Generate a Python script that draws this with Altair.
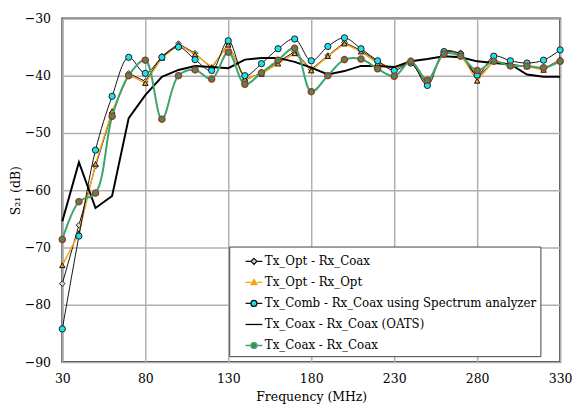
import altair as alt
import pandas as pd

freq = [30, 40, 50, 60, 70, 80, 90, 100, 110, 120, 130, 140, 150, 160, 170, 180,
        190, 200, 210, 220, 230, 240, 250, 260, 270, 280, 290, 300, 310, 320, 330]

opt_coax = [-76.3, -66.1, -55.8, -46.5, -39.6, -41.0, -36.6, -34.4, -36.1, -38.7, -34.4,
            -40.8, -39.5, -37.6, -35.8, -38.9, -36.5, -34.2, -35.6, -37.6, -38.9, -37.5,
            -41.7, -35.7, -36.0, -40.3, -37.5, -38.0, -38.4, -38.8, -37.2]
opt_opt = [-73.1, -67.5, -55.4, -46.2, -39.8, -41.3, -36.9, -34.6, -36.3, -38.5, -34.6,
           -40.6, -39.7, -37.9, -36.1, -39.1, -36.6, -34.4, -35.8, -37.8, -38.8, -37.3,
           -41.3, -35.8, -36.3, -40.9, -37.4, -38.2, -38.4, -39.0, -37.3]
comb_coax = [-84.2, -68.0, -53.0, -43.6, -36.8, -39.6, -36.8, -35.0, -37.2, -39.1, -33.9,
             -40.0, -37.9, -35.3, -33.6, -37.4, -34.9, -33.4, -35.3, -37.4, -39.1, -37.8,
             -41.7, -35.8, -36.3, -39.9, -36.6, -37.4, -37.8, -37.3, -35.5]
oats = [-65.4, -55.1, -63.1, -61.0, -47.4, -43.4, -40.2, -39.0, -38.3, -38.5, -38.7,
        -37.2, -36.9, -36.9, -37.6, -38.6, -39.8, -39.2, -38.3, -38.3, -38.5, -37.5,
        -37.1, -36.6, -36.8, -37.5, -37.8, -38.0, -39.8, -40.2, -40.2]
coax_coax = [-68.6, -62.0, -60.5, -47.1, -40.0, -37.3, -47.6, -40.0, -39.0, -40.6, -35.9,
             -41.5, -39.5, -37.3, -35.2, -42.8, -40.0, -37.2, -37.1, -38.8, -40.1, -37.5,
             -40.8, -36.2, -36.6, -39.1, -37.5, -38.3, -38.3, -38.6, -37.5]

names = ["Tx_Opt - Rx_Coax", "Tx_Opt - Rx_Opt", "Tx_Comb - Rx_Coax using Spectrum analyzer",
         "Tx_Coax - Rx_Coax (OATS)", "Tx_Coax - Rx_Coax"]
series_values = [opt_coax, opt_opt, comb_coax, oats, coax_coax]

rows = []
for n, vals in zip(names, series_values):
    for f, v in zip(freq, vals):
        rows.append({"freq": f, "s21": v, "series": n})
df = pd.DataFrame(rows)

FONT = "DejaVu Serif Condensed"
ORANGE = "#f5a21b"
CYAN = "#19e3ef"
GREEN = "#3aa56e"
GFILL = "#3f8f52"
GEDGE = "#a8322c"

x = alt.X("freq:Q", scale=alt.Scale(domain=[30, 330], nice=False),
          axis=alt.Axis(values=[30, 80, 130, 180, 230, 280, 330], title="Frequency (MHz)",
                        labelFont=FONT, titleFont=FONT, labelFlush=False))
y = alt.Y("s21:Q", scale=alt.Scale(domain=[-90, -30], nice=False),
          axis=alt.Axis(values=[-90, -80, -70, -60, -50, -40, -30], title="S₂₁ (dB)",
                        labelFont=FONT, titleFont=FONT, labelFlush=False))

base = alt.Chart(df)


def sub(n):
    return base.transform_filter(alt.datum.series == n)


layers = []
layers.append(sub(names[0]).mark_line(color="#111111", strokeWidth=1).encode(x=x, y=y))
layers.append(sub(names[0]).mark_point(shape="diamond", filled=True, fill="#d8d8d8",
                                       stroke="#222222", strokeWidth=1, size=32, opacity=1).encode(x=x, y=y))
layers.append(sub(names[1]).mark_line(color=ORANGE, strokeWidth=1.5).encode(x=x, y=y))
layers.append(sub(names[1]).mark_point(shape="triangle-up", filled=True, fill=ORANGE,
                                       stroke="#111111", strokeWidth=1, size=30, opacity=1).encode(x=x, y=y))
layers.append(sub(names[2]).mark_line(color="#111111", strokeWidth=1, interpolate="catmull-rom").encode(x=x, y=y))
layers.append(sub(names[2]).mark_point(shape="circle", filled=True, fill=CYAN,
                                       stroke="#1a1a1a", strokeWidth=1, size=40, opacity=1).encode(x=x, y=y))
layers.append(sub(names[3]).mark_line(color="#000000", strokeWidth=2).encode(x=x, y=y))
layers.append(sub(names[4]).mark_line(color=GREEN, strokeWidth=2, interpolate="catmull-rom").encode(x=x, y=y))
layers.append(sub(names[4]).mark_point(shape="circle", filled=True, fill=GFILL,
                                       stroke=GEDGE, strokeWidth=1.3, size=40, opacity=1).encode(x=x, y=y))

paths = [
    "M-0.85,0H-0.3M0.3,0H0.85M0,-0.3L0.3,0L0,0.3L-0.3,0Z",
    "M-0.85,0H-0.3M0.3,0H0.85M0,-0.3L0.3,0.22L-0.3,0.22Z",
    "M-0.85,0H-0.3M0.3,0H0.85M-0.3,0A0.3,0.3,0,1,0,0.3,0A0.3,0.3,0,1,0,-0.3,0Z",
    "M-0.85,0H0.85",
    "M-0.85,0H-0.3M0.3,0H0.85M-0.3,0A0.3,0.3,0,1,0,0.3,0A0.3,0.3,0,1,0,-0.3,0Z",
]
fills = ["#d8d8d8", ORANGE, CYAN, "#000000", GFILL]
strokes = ["#111111", ORANGE, "#111111", "#000000", GREEN]

leg = alt.Legend(title=None, orient="none", legendX=169, legendY=231,
                 fillColor="white", strokeColor="#404040", padding=4,
                 labelFont=FONT, labelFontSize=13.3, labelColor="black", labelLimit=400,
                 symbolSize=400, symbolStrokeWidth=1.3, symbolOpacity=1, rowPadding=3.3,
                 symbolOffset=10, labelOffset=0)

layers.append(base.mark_point(opacity=0, filled=True).encode(
    x=x, y=y,
    shape=alt.Shape("series:N", scale=alt.Scale(domain=names, range=paths), legend=leg),
    fill=alt.Fill("series:N", scale=alt.Scale(domain=names, range=fills), legend=leg),
    stroke=alt.Stroke("series:N", scale=alt.Scale(domain=names, range=strokes), legend=leg),
))

chart = alt.layer(*layers).properties(
    width=504, height=348,
    autosize=alt.AutoSizeParams(type="none"),
    padding={"left": 55, "top": 8, "right": 12, "bottom": 47},
).configure_view(
    stroke="#404040", strokeWidth=2
).configure_axis(
    labelFontSize=14, titleFontSize=14,
    labelColor="black", titleColor="black", titleFontWeight="normal",
    grid=True, gridColor="#b0b0b0", gridWidth=1.5, domain=False, ticks=False,
).configure_axisX(
    labelPadding=10, titlePadding=4,
).configure_axisY(
    labelPadding=12, titlePadding=2,
)

chart.save("out.html", embed_options={"renderer": "svg", "actions": False})
